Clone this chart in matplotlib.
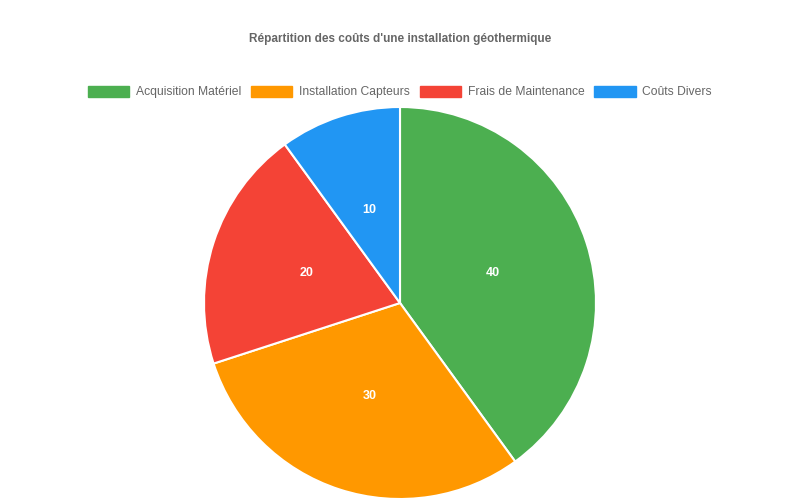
import matplotlib.pyplot as plt
from matplotlib.patches import Patch
import numpy as np

categories = ['Acquisition Matériel', 'Installation Capteurs',
              'Frais de Maintenance', 'Coûts Divers']
values = [40, 30, 20, 10]
colors = ['#4CAF50', '#FF9800', '#F44336', '#2196F3']

plt.rcParams['font.family'] = ['Liberation Sans', 'DejaVu Sans']

fig = plt.figure(figsize=(8, 5), dpi=100)

# pie area: center (400, 303) px, radius 196 px
r = 196
ax = fig.add_axes([(400 - r) / 800, (500 - 303 - r) / 500, 2 * r / 800, 2 * r / 500])
wedges, texts = ax.pie(values, colors=colors, startangle=90, counterclock=False,
                       radius=1, wedgeprops={'edgecolor': 'white', 'linewidth': 1.5})
ax.set_xlim(-1, 1)
ax.set_ylim(-1, 1)
ax.set_aspect('equal')
ax.axis('off')

# value labels at half radius
for w, v in zip(wedges, values):
    ang = np.deg2rad((w.theta1 + w.theta2) / 2)
    ax.text(0.5 * np.cos(ang), 0.5 * np.sin(ang), str(v), ha='center', va='center',
            color='white', fontsize=9, fontweight='bold')

fig.text(0.5, 1 - 39 / 500, "Répartition des coûts d'une installation géothermique",
         ha='center', va='center', fontsize=8.5, fontweight='bold', color='#666666')

handles = [Patch(facecolor=c, edgecolor=c) for c in colors]
leg = fig.legend(handles, categories, loc='center', bbox_to_anchor=(0.5, 1 - 92 / 500),
                 ncol=4, frameon=False, fontsize=8.75, handlelength=3.4, handleheight=1.0,
                 columnspacing=0.8, handletextpad=0.55, labelcolor='#666666')

fig.savefig('out.png', dpi=100)
